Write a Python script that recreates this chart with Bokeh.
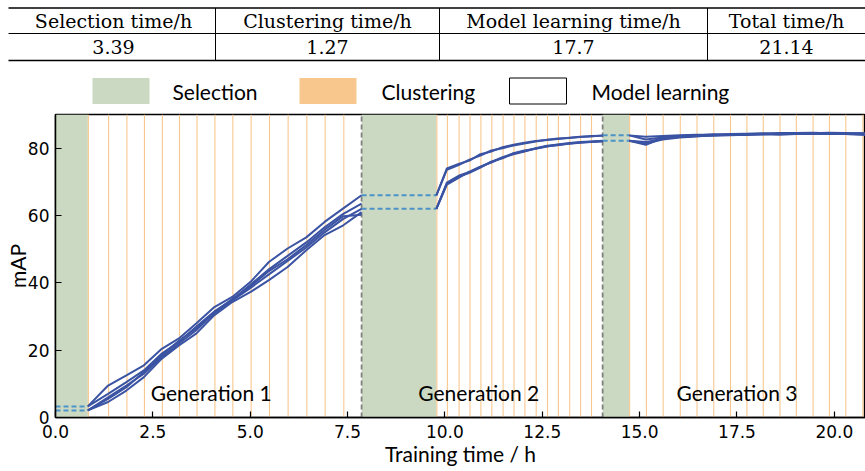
from bokeh.plotting import figure
from bokeh.models import Range1d, PrintfTickFormatter, FixedTicker
from bokeh.embed import file_html
from bokeh.resources import INLINE
from bokeh.core.properties import value

# ---------------- data ----------------
table_headers = ["Selection time/h", "Clustering time/h", "Model learning time/h", "Total time/h"]
table_values = ["3.39", "1.27", "17.7", "21.14"]

legend_labels = ["Selection", "Clustering", "Model learning"]

selection_start = [0.0, 7.86, 14.05]
selection_end = [0.83, 9.78, 14.73]
generation_end = [7.86, 14.05, 21.14]
generation_boundaries = [7.86, 14.05]
generation_names = ["Generation 1", "Generation 2", "Generation 3"]

clustering_gen1 = [0.83, 1.35, 1.82, 2.27, 2.73, 3.17, 3.62, 4.08, 4.54, 5.01, 5.48, 5.96, 6.44, 6.91, 7.39]
clustering_gen2 = [9.78, 10.05, 10.35, 10.63, 10.91, 11.19, 11.48, 11.76, 12.04, 12.33, 12.62, 12.90, 13.19, 13.47, 13.75]
clustering_gen3 = [14.73, 15.16, 15.59, 16.03, 16.46, 16.89, 17.32, 17.74, 18.16, 18.59, 19.01, 19.44, 19.86, 20.28, 20.72]
clustering_step = 0.028  # hours per clustering step

sel_level_hi = [3.3, 66.0, 83.8]
sel_level_lo = [2.1, 62.0, 82.2]

gen1_runs = [
    [3.3, 9.5, 12.5, 15.5, 20.4, 23.5, 28.0, 32.8, 35.8, 40.3, 46.2, 50.2, 53.5, 58.1, 62.1, 66.0],
    [3.3, 7.0, 10.5, 14.0, 19.0, 22.5, 27.0, 31.5, 35.0, 39.5, 44.0, 48.0, 52.0, 56.5, 60.5, 63.5],
    [2.1, 4.6, 8.0, 12.0, 17.5, 21.4, 25.0, 30.4, 34.3, 37.3, 40.8, 44.7, 49.7, 54.2, 57.1, 61.0],
    [2.1, 6.0, 9.5, 13.0, 18.0, 22.0, 26.0, 31.0, 34.8, 38.5, 42.5, 46.5, 50.5, 55.0, 59.0, 62.0],
    [2.1, 5.5, 9.0, 13.5, 18.5, 22.8, 26.5, 31.2, 35.2, 39.0, 43.5, 47.0, 51.2, 55.8, 59.8, 60.2],
]
gen2_runs = [
    [66.0, 74.0, 75.3, 76.3, 78.2, 79.0, 80.3, 81.0, 81.6, 82.1, 82.4, 82.7, 83.1, 83.4, 83.6, 83.7],
    [66.0, 73.6, 75.0, 76.6, 77.8, 79.3, 80.0, 80.8, 81.4, 82.0, 82.5, 82.9, 83.0, 83.3, 83.5, 83.8],
    [62.0, 69.5, 71.5, 72.7, 74.2, 76.0, 77.0, 78.5, 79.3, 79.8, 80.5, 81.0, 81.3, 81.6, 81.8, 82.0],
    [62.0, 69.2, 71.2, 73.0, 74.5, 75.7, 77.2, 78.2, 79.0, 80.0, 80.7, 81.1, 81.5, 81.8, 82.0, 82.2],
    [62.0, 69.8, 71.8, 72.9, 74.4, 75.9, 77.3, 78.4, 79.1, 79.9, 80.6, 80.9, 81.4, 81.7, 81.9, 82.1],
]
gen3_runs = [
    [83.8, 83.4, 83.6, 83.8, 84.0, 84.0, 84.2, 84.3, 84.3, 84.5, 84.5, 84.4, 84.6, 84.5, 84.4, 84.5],
    [83.8, 82.6, 83.2, 83.6, 83.8, 84.1, 84.0, 84.2, 84.4, 84.3, 84.5, 84.6, 84.4, 84.3, 84.4, 84.3],
    [82.2, 81.0, 83.0, 83.4, 83.7, 83.8, 84.0, 84.1, 84.2, 84.2, 84.4, 84.2, 84.4, 84.2, 84.1, 84.2],
    [82.2, 81.4, 82.6, 83.2, 83.5, 83.9, 84.0, 83.9, 84.1, 84.3, 84.2, 84.4, 84.3, 84.2, 84.0, 84.1],
    [82.2, 81.8, 82.9, 83.3, 83.6, 83.7, 83.8, 84.0, 84.1, 84.0, 84.2, 84.3, 84.2, 84.3, 84.1, 84.0],
]

x_ticks = [0, 2.5, 5, 7.5, 10, 12.5, 15, 17.5, 20]
y_ticks = [0, 20, 40, 60, 80]

# ---------------- style ----------------
GREEN = "#cbd9c2"
ORANGE = "#f8c78d"
BLUE = "#3b53a3"
LBLUE = "#4b93c9"
SANS = "Lato"
W = 865
H = 470
HDR_H = 112

# ---------------- header: table + legend ----------------
hdr = figure(width=W, height=HDR_H, x_range=Range1d(0, W), y_range=Range1d(HDR_H, 0),
             output_backend="svg", toolbar_location=None, x_axis_type=None, y_axis_type=None,
             min_border=0, outline_line_color=None)
hdr.grid.visible = False

col_edges = [8, 215, 439, 707, W]
col_centers = [113, 327, 573, 786]
hdr.segment(x0=[8, 8, 8], x1=[W, W, W], y0=[7.5, 33, 60], y1=[7.5, 33, 60],
            line_color="black", line_width=[1.6, 1.0, 1.6])
hdr.segment(x0=col_edges[1:4], x1=col_edges[1:4], y0=[7.5] * 3, y1=[60] * 3,
            line_color="black", line_width=1)
hdr.text(x=col_centers, y=[20.5] * 4, text=table_headers, text_font=value("DejaVu Serif"),
         text_font_size="19px", text_align="center", text_baseline="middle", text_color="black")
hdr.text(x=col_centers, y=[46.5] * 4, text=table_values, text_font=value("DejaVu Serif"),
         text_font_size="19px", text_align="center", text_baseline="middle", text_color="black")

leg_left = [92, 299, 509]
leg_text_x = [172, 381, 591]
hdr.quad(left=leg_left, right=[x + 57 for x in leg_left], top=[77.5] * 3, bottom=[103.5] * 3,
         fill_color=[GREEN, ORANGE, "white"], line_color=[None, None, "black"], line_width=1)
hdr.text(x=leg_text_x, y=[90.5] * 3, text=legend_labels, text_font=value(SANS),
         text_font_size="21px", text_baseline="middle", text_color="black")

# ---------------- main plot ----------------
p = figure(width=W, height=H - HDR_H, x_range=Range1d(0, 20.8), y_range=Range1d(0, 90),
           output_backend="svg", toolbar_location=None,
           min_border_left=55, min_border_right=0, min_border_top=2, min_border_bottom=53)
p.grid.visible = False
p.outline_line_color = "black"
p.outline_line_width = 1.5

# selection blocks
p.quad(left=selection_start, right=selection_end, bottom=0, top=90, fill_color=GREEN, line_color=None)
# clustering steps
clust = clustering_gen1 + clustering_gen2 + clustering_gen3
p.quad(left=clust, right=[c + clustering_step for c in clust], bottom=0, top=90,
       fill_color=ORANGE, line_color=None)
# generation boundaries
p.segment(x0=generation_boundaries, x1=generation_boundaries, y0=0, y1=90,
          line_color="#808080", line_width=1.8, line_dash="5 3")

# dashed selection levels
p.segment(x0=selection_start, x1=selection_end, y0=sel_level_hi, y1=sel_level_hi,
          line_color=LBLUE, line_width=2, line_dash="5 3")
p.segment(x0=selection_start, x1=selection_end, y0=sel_level_lo, y1=sel_level_lo,
          line_color=LBLUE, line_width=2, line_dash="5 3")

# training curves
gens = [(clustering_gen1, generation_end[0], gen1_runs),
        (clustering_gen2, generation_end[1], gen2_runs),
        (clustering_gen3, generation_end[2], gen3_runs)]
xs, ys = [], []
for cl, ge, runs in gens:
    xx = cl + [ge]
    for r in runs:
        xs.append(xx)
        ys.append(r)
p.multi_line(xs=xs, ys=ys, line_color=BLUE, line_width=2)

# generation labels
p.text(x=[4.0, 10.87, 17.5], y=[7.4] * 3, text=generation_names, text_font=value(SANS),
       text_font_size="21px", text_align="center", text_baseline="middle", text_color="black")

for ax in (p.xaxis[0], p.yaxis[0]):
    ax.major_tick_in = 6
    ax.major_tick_out = 0
    ax.minor_tick_line_color = None
    ax.axis_line_width = 1.5
    ax.major_tick_line_width = 1.2
    ax.major_label_text_font = "DejaVu Sans"
    ax.major_label_text_font_size = "17px"
    ax.major_label_text_color = "black"
    ax.axis_label_text_font = SANS
    ax.axis_label_text_font_size = "21px"
    ax.axis_label_text_font_style = "normal"
    ax.axis_label_text_color = "black"

p.xaxis.ticker = FixedTicker(ticks=x_ticks)
p.xaxis.formatter = PrintfTickFormatter(format="%.1f")
p.yaxis.ticker = FixedTicker(ticks=y_ticks)
p.xaxis.axis_label = "Training time / h"
p.yaxis.axis_label = "mAP"
p.xaxis.major_label_standoff = 7
p.xaxis.axis_label_standoff = 0
p.yaxis.major_label_standoff = 6
p.yaxis.axis_label_standoff = -5

open("out.html", "w").write(file_html([hdr, p], INLINE))
